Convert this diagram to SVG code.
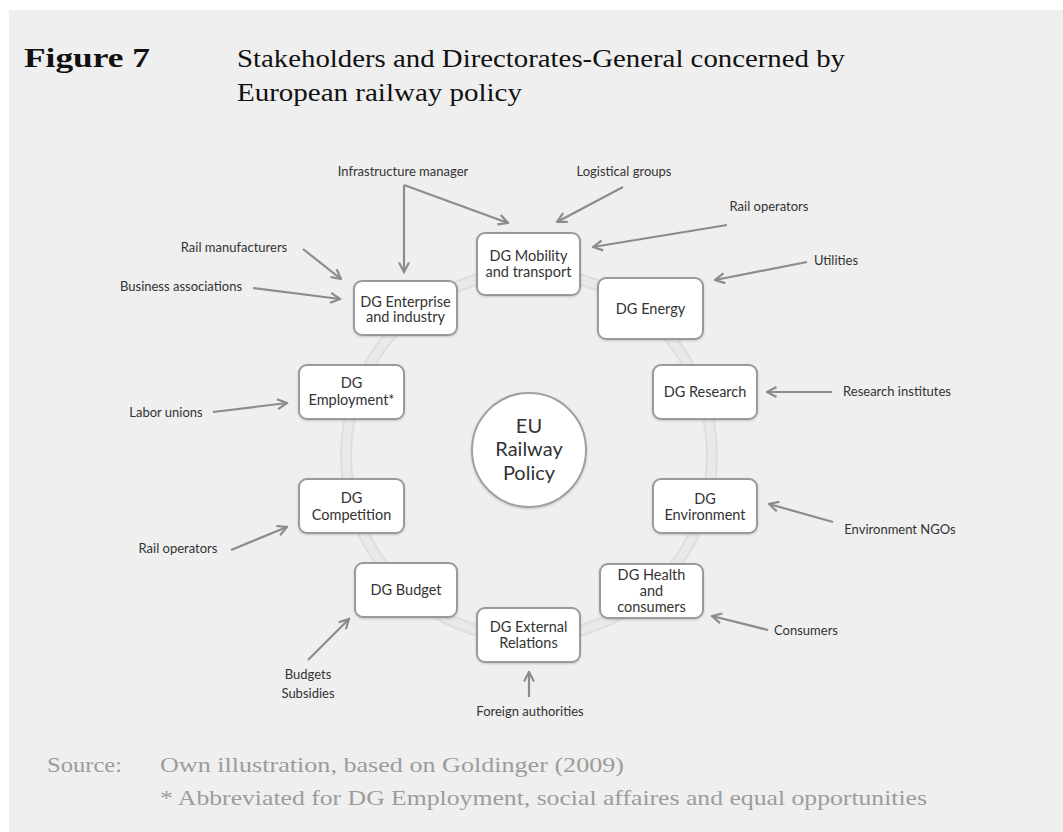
<svg xmlns="http://www.w3.org/2000/svg" width="1063" height="832" viewBox="0 0 1063 832">
<style>
.bg{fill:#efefef}
.ttl{font-family:"Liberation Serif",serif;fill:#111}
.src{font-family:"Liberation Serif",serif;fill:#9c9c9c;font-size:21px}
.box{fill:#fff;stroke:#9a9a9a;stroke-width:2}
.bt{font-family:Lato,"Liberation Sans",sans-serif;font-size:14.5px;fill:#333;text-anchor:middle}
.lbl{font-family:Lato,"Liberation Sans",sans-serif;font-size:13px;fill:#333;text-anchor:middle}
.ct{font-family:Lato,"Liberation Sans",sans-serif;font-size:20px;fill:#333;text-anchor:middle}
.arr{fill:none;stroke:#8c8c8c;stroke-width:2.2;marker-end:url(#ah)}
</style>
<defs>
<marker id="ah" viewBox="0 0 12 12" refX="10.5" refY="6" markerWidth="12" markerHeight="12" markerUnits="userSpaceOnUse" orient="auto">
<path d="M1,1 L10.5,6 L1,11" fill="none" stroke="#8c8c8c" stroke-width="2.2"/>
</marker>
<filter id="sh" x="-10%" y="-10%" width="120%" height="130%">
<feDropShadow dx="0" dy="1" stdDeviation="1" flood-color="#000" flood-opacity="0.18"/>
</filter>
</defs>
<rect class="bg" x="9" y="10" width="1054" height="822"/>
<g id="title">
<text class="ttl" x="24" y="67" font-size="27" font-weight="bold" textLength="126" lengthAdjust="spacingAndGlyphs">Figure 7</text>
<text class="ttl" x="237" y="67" font-size="25" textLength="608" lengthAdjust="spacingAndGlyphs">Stakeholders and Directorates-General concerned by</text>
<text class="ttl" x="237" y="101" font-size="25" textLength="285" lengthAdjust="spacingAndGlyphs">European railway policy</text>
</g>
<g id="ring">
<circle cx="529" cy="455" r="183" fill="none" stroke="#dedede" stroke-width="12"/>
<circle cx="529" cy="455" r="183" fill="none" stroke="#e9e9e9" stroke-width="8"/>
</g>
<g id="center">
<circle cx="529" cy="450" r="57" fill="#fff" stroke="#a0a0a0" stroke-width="2" filter="url(#sh)"/>
<text class="ct" x="529" y="433">EU</text>
<text class="ct" x="529" y="456">Railway</text>
<text class="ct" x="529" y="480">Policy</text>
</g>
<g id="n-mobility"><rect class="box" x="477" y="233" width="103" height="62" rx="8" filter="url(#sh)"/><text class="bt" x="528.5" y="261">DG Mobility</text><text class="bt" x="528.5" y="277">and transport</text></g>
<g id="n-enterprise"><rect class="box" x="354" y="281" width="103" height="54" rx="8" filter="url(#sh)"/><text class="bt" x="405.5" y="307">DG Enterprise</text><text class="bt" x="405.5" y="322">and industry</text></g>
<g id="n-energy"><rect class="box" x="598" y="278" width="105" height="61" rx="8" filter="url(#sh)"/><text class="bt" x="650.5" y="314">DG Energy</text></g>
<g id="n-research"><rect class="box" x="653" y="365" width="104" height="54" rx="8" filter="url(#sh)"/><text class="bt" x="705" y="397">DG Research</text></g>
<g id="n-environment"><rect class="box" x="653" y="479" width="104" height="54" rx="8" filter="url(#sh)"/><text class="bt" x="705" y="504">DG</text><text class="bt" x="705" y="520">Environment</text></g>
<g id="n-health"><rect class="box" x="600" y="564" width="103" height="54" rx="8" filter="url(#sh)"/><text class="bt" x="651.5" y="580">DG Health</text><text class="bt" x="651.5" y="596">and</text><text class="bt" x="651.5" y="612">consumers</text></g>
<g id="n-external"><rect class="box" x="477" y="608" width="103" height="54" rx="8" filter="url(#sh)"/><text class="bt" x="528.5" y="632">DG External</text><text class="bt" x="528.5" y="648">Relations</text></g>
<g id="n-budget"><rect class="box" x="355" y="563" width="102" height="54" rx="8" filter="url(#sh)"/><text class="bt" x="406" y="595">DG Budget</text></g>
<g id="n-employment"><rect class="box" x="299" y="365" width="105" height="54" rx="8" filter="url(#sh)"/><text class="bt" x="351.5" y="388">DG</text><text class="bt" x="351.5" y="405">Employment*</text></g>
<g id="n-competition"><rect class="box" x="299" y="479" width="105" height="54" rx="8" filter="url(#sh)"/><text class="bt" x="351.5" y="503">DG</text><text class="bt" x="351.5" y="520">Competition</text></g>
<g id="stakeholders">
<text class="lbl" x="403" y="176">Infrastructure manager</text>
<text class="lbl" x="624" y="176">Logistical groups</text>
<text class="lbl" x="769" y="211">Rail operators</text>
<text class="lbl" x="836" y="265">Utilities</text>
<text class="lbl" x="234" y="252">Rail manufacturers</text>
<text class="lbl" x="181" y="291">Business associations</text>
<text class="lbl" x="166" y="417">Labor unions</text>
<text class="lbl" x="178" y="553">Rail operators</text>
<text class="lbl" x="897" y="396">Research institutes</text>
<text class="lbl" x="900" y="534">Environment NGOs</text>
<text class="lbl" x="806" y="635">Consumers</text>
<text class="lbl" x="308" y="679">Budgets</text>
<text class="lbl" x="308" y="698">Subsidies</text>
<text class="lbl" x="530" y="716">Foreign authorities</text>
</g>
<g id="connectors">
<path class="arr" d="M404,185 L404,272"/>
<path class="arr" d="M404,185 L508,223"/>
<path class="arr" d="M623,187 L557,222"/>
<path class="arr" d="M727,225 L593,247"/>
<path class="arr" d="M807,262 L715,280"/>
<path class="arr" d="M303,249 L341,279"/>
<path class="arr" d="M253,288 L340,299"/>
<path class="arr" d="M213,412 L287,403"/>
<path class="arr" d="M231,550 L287,527"/>
<path class="arr" d="M832,392 L767,392"/>
<path class="arr" d="M833,522 L769,504"/>
<path class="arr" d="M768,630 L712,616"/>
<path class="arr" d="M308,660 L349,619"/>
<path class="arr" d="M529,697 L529,672"/>
</g>
<g id="source">
<text class="src" x="47" y="772" textLength="75" lengthAdjust="spacingAndGlyphs">Source:</text>
<text class="src" x="160" y="772" textLength="464" lengthAdjust="spacingAndGlyphs">Own illustration, based on Goldinger (2009)</text>
<text class="src" x="160" y="805" textLength="767" lengthAdjust="spacingAndGlyphs">* Abbreviated for DG Employment, social affaires and equal opportunities</text>
</g>
</svg>
